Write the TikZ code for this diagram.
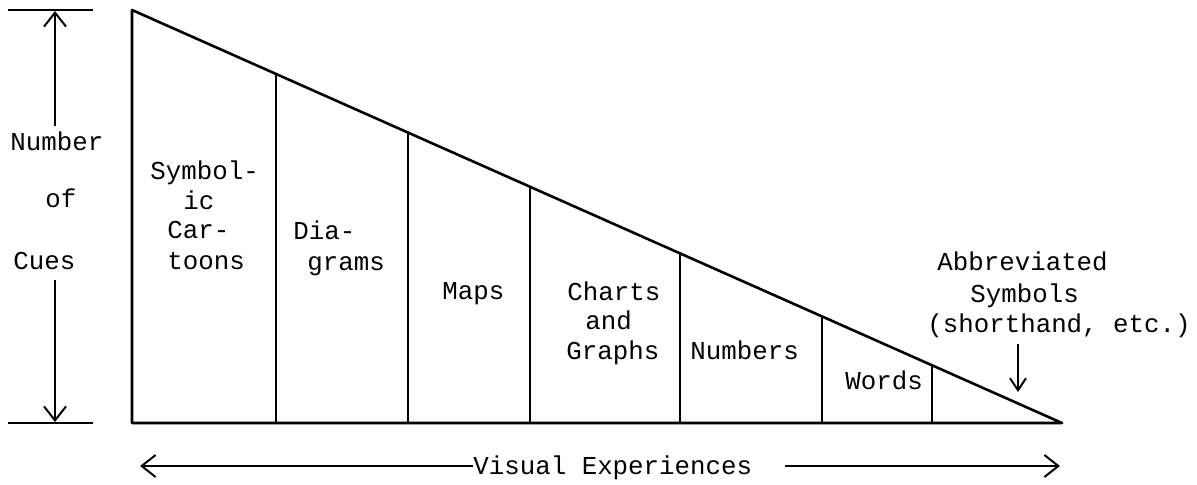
\documentclass[tikz,border=0pt]{standalone}
\usepackage{fontspec}
\setmonofont{Liberation Mono}
\usetikzlibrary{arrows.meta,calc}
\begin{document}
\begin{tikzpicture}[x=0.5pt,y=-0.5pt,
  ln/.style={line width=1.3pt},
  thin/.style={line width=1pt},
  lbl/.style={anchor=base west,inner sep=0pt,font=\ttfamily\fontsize{12.9pt}{15pt}\selectfont},
  tip/.style={-{Straight Barb[length=7pt,width=11pt,line width=1pt]}},
  smalltip/.style={-{Straight Barb[length=6pt,width=8pt,line width=1pt]}}]
\useasboundingbox (0,0) rectangle (1197,484);
% triangle
\coordinate (T) at (132,10);
\coordinate (B) at (132,423);
\coordinate (R) at (1062,423);
\draw[ln,line join=round] (T) -- (B) -- (R) -- cycle;
% dividers
\foreach \n/\x/\y in {d1/276/73.9,d2/408/132.6,d3/530/186.7,d4/680/253.4,d5/822/316.4,d6/932/365.3}{
  \coordinate (\n t) at (\x,\y);
  \coordinate (\n b) at (\x,423);
  \draw[ln] (\n t) -- (\n b);
}
% left dimension
\coordinate (lt1) at (8,10);  \coordinate (lt2) at (93,10);
\coordinate (lb1) at (8,423); \coordinate (lb2) at (93,423);
\draw[thin] (lt1) -- (lt2);
\draw[thin] (lb1) -- (lb2);
\node[lbl] (num) at (10,150) {Number};
\node[lbl] (of) at (45,207) {of};
\node[lbl] (cues) at (13,269) {Cues};
\coordinate (ua) at (55,126);
\coordinate (uat) at (55,11);
\coordinate (da) at (55,280);
\coordinate (dat) at (55,422);
\draw[thin,tip] (ua) -- (uat);
\draw[thin,tip] (da) -- (dat);
% labels inside
\node[lbl] (s1) at (150,179) {Symbol-};
\node[lbl] (s2) at (183,209) {ic};
\node[lbl] (s3) at (167,238) {Car-};
\node[lbl] (s4) at (167,269) {toons};
\node[lbl] (g1) at (293,239) {Dia-};
\node[lbl] (g2) at (307,270) {grams};
\node[lbl] (mp) at (442,299) {Maps};
\node[lbl] (c1) at (567,300) {Charts};
\node[lbl] (c2) at (585,329) {and};
\node[lbl] (c3) at (566,359) {Graphs};
\node[lbl] (nb) at (690,359) {Numbers};
\node[lbl] (wd) at (845,389) {Words};
\node[lbl] (a1) at (937,270) {Abbreviated};
\node[lbl] (a2) at (970,302) {Symbols};
\node[lbl] (a3) at (927,332) {(shorthand, etc.)};
\coordinate (abs) at (1018,344);
\coordinate (abe) at (1018,392);
\draw[thin,smalltip] (abs) -- (abe);
% bottom axis
\node[lbl] (ve) at (473,474) {Visual Experiences};
\coordinate (vl) at (140,466);
\coordinate (vr) at (1060,466);
\coordinate (vs) at (473,466);
\coordinate (ve2) at (785,466);
\draw[thin,tip] (vs) -- (vl);
\draw[thin,tip] (ve2) -- (vr);
\end{tikzpicture}
\end{document}
